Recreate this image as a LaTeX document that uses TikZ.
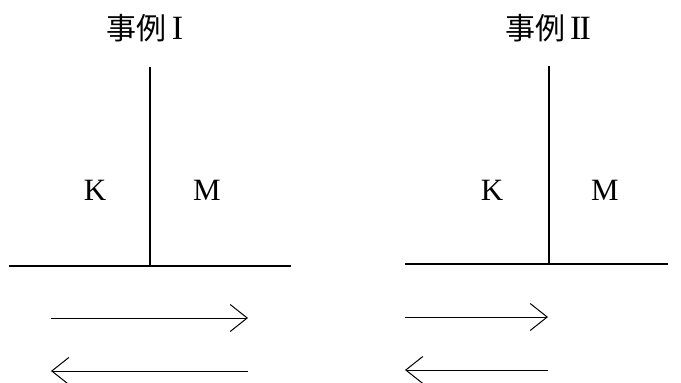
\documentclass[tikz,border=0pt]{standalone}
\usepackage{fontspec}
\setmainfont{Liberation Serif}
\newfontfamily\cjkfont{Noto Sans CJK JP}
\usetikzlibrary{arrows.meta}
\newcommand{\numeral}[1]{{\fontsize{34}{34}\selectfont #1}}
\begin{document}
\begin{tikzpicture}[x=1pt,y=-1pt,
  wall/.style={line width=1.2pt},
  flow/.style={line width=1pt,-{Straight Barb[length=17pt,width=27pt,line width=1pt]}},
  title/.style={font=\fontsize{30}{30}\selectfont, inner sep=0pt},
  side/.style={font=\fontsize{31}{31}\selectfont}]
\useasboundingbox (0,0) rectangle (681,383);
% case I
\node[title] (t1) at (145,28) {{\cjkfont 事例}\,\numeral{I}};
\coordinate (a1) at (150,67);
\coordinate (b1) at (150,266);
\coordinate (g1l) at (9,266);
\coordinate (g1r) at (291,266);
\draw[wall] (a1) -- (b1);
\draw[wall] (g1l) -- (g1r);
\node[side] (k1) at (95,190) {K};
\node[side] (m1) at (207,190) {M};
\coordinate (p1l) at (51,318);
\coordinate (p1r) at (248,318);
\coordinate (q1l) at (51,371);
\coordinate (q1r) at (248,371);
\draw[flow] (p1l) -- (p1r);
\draw[flow] (q1r) -- (q1l);
% case II
\node[title] (t2) at (548,28) {{\cjkfont 事例}\,\numeral{I\kern-2pt I}};
\coordinate (a2) at (549,66);
\coordinate (b2) at (549,264);
\coordinate (g2l) at (405,264);
\coordinate (g2r) at (668,264);
\draw[wall] (a2) -- (b2);
\draw[wall] (g2l) -- (g2r);
\node[side] (k2) at (492,190) {K};
\node[side] (m2) at (605,190) {M};
\coordinate (p2l) at (405,317);
\coordinate (p2r) at (548,317);
\coordinate (q2l) at (405,370);
\coordinate (q2r) at (548,370);
\draw[flow] (p2l) -- (p2r);
\draw[flow] (q2r) -- (q2l);
\end{tikzpicture}
\end{document}
